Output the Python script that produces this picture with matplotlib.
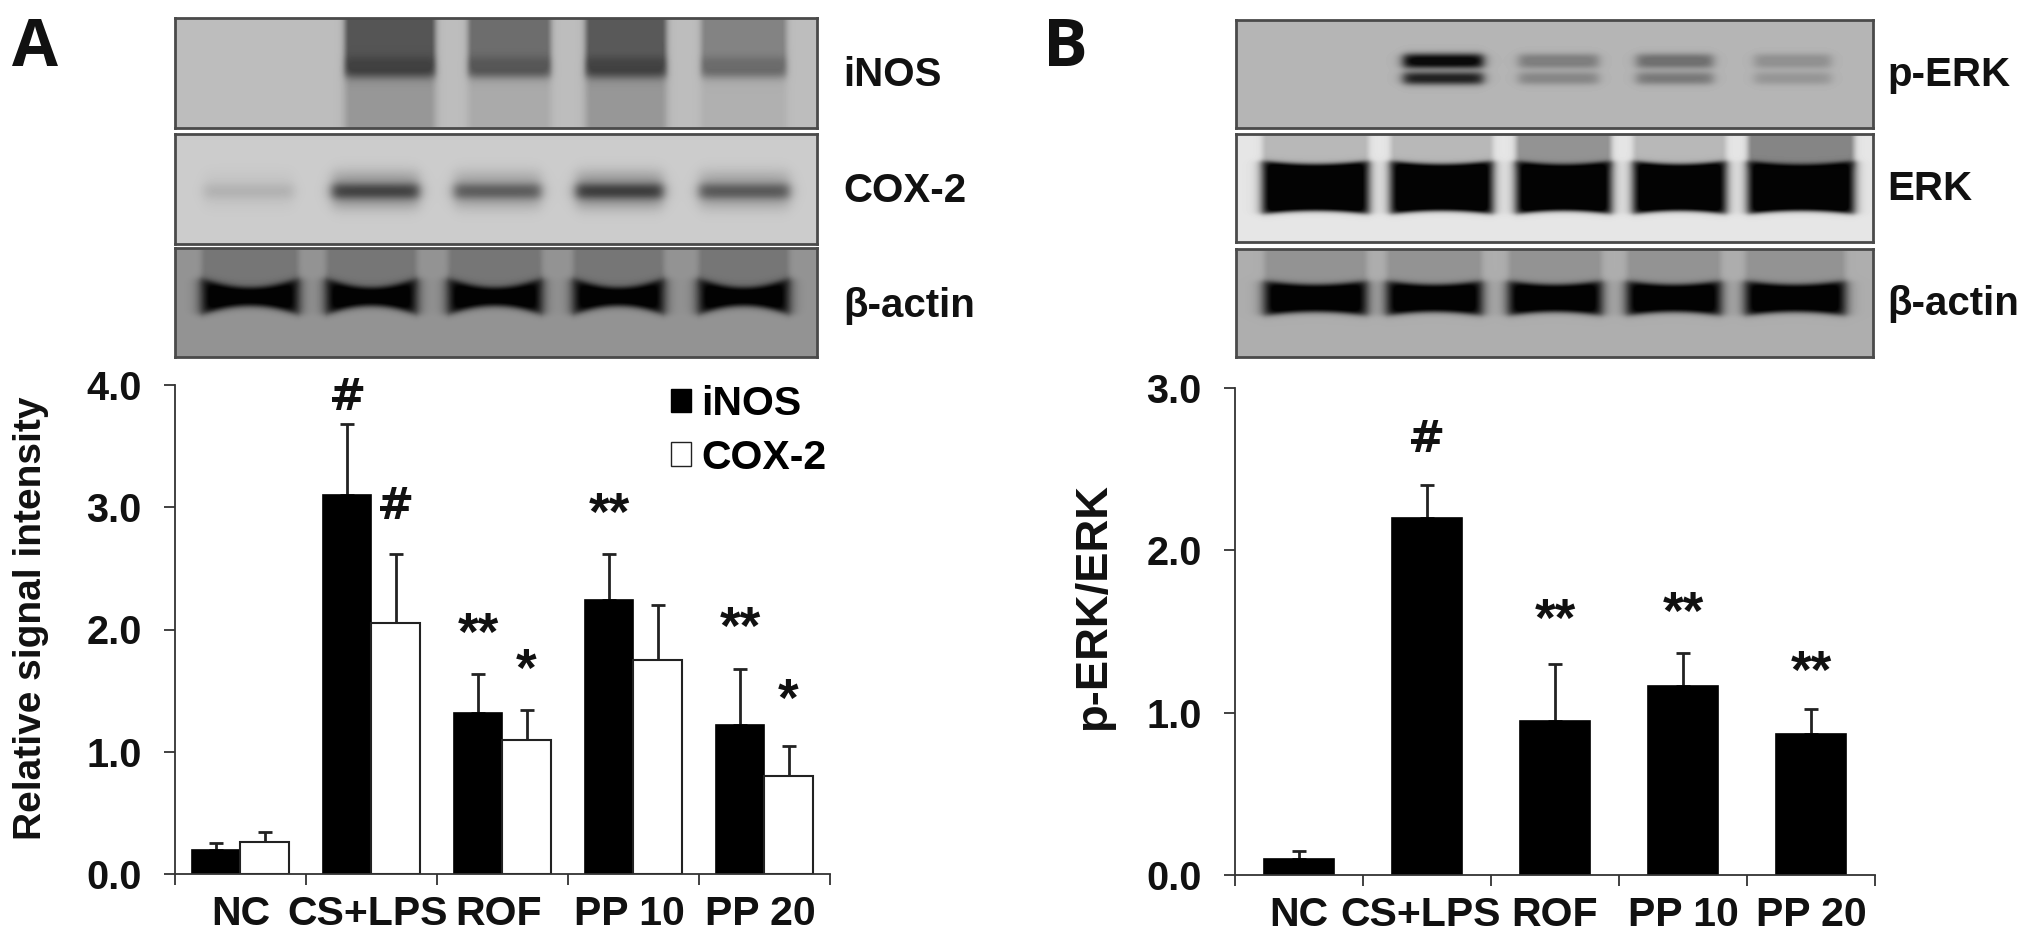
import numpy as np
import matplotlib
matplotlib.use("Agg")
import matplotlib.pyplot as plt
from matplotlib.patches import Patch

W, H = 2031, 943
plt.rcParams['font.family'] = ['Liberation Sans', 'DejaVu Sans']
plt.rcParams['font.weight'] = 'bold'

# ---- data ----
cats = ['NC', 'CS+LPS', 'ROF', 'PP 10', 'PP 20']
inos = [0.20, 3.10, 1.32, 2.24, 1.22]
inos_top = [0.25, 3.68, 1.64, 2.62, 1.68]
cox2 = [0.26, 2.05, 1.10, 1.75, 0.80]
cox2_top = [0.34, 2.62, 1.34, 2.20, 1.05]
perk = [0.10, 2.20, 0.95, 1.165, 0.87]
perk_top = [0.15, 2.40, 1.30, 1.37, 1.02]
yticks_a = [0, 1, 2, 3, 4]
yticks_b = [0, 1, 2, 3]

# blot lanes as fractions of panel width, and strengths
a_inos_lanes = [(0.265, 0.405), (0.457, 0.585), (0.640, 0.765), (0.820, 0.952)]
a_inos_str = [0.55, 0.42, 0.52, 0.30]
a_cox_lanes = [(0.045, 0.185), (0.245, 0.380), (0.435, 0.570), (0.625, 0.760), (0.817, 0.957)]
a_cox_str = [0.10, 0.62, 0.48, 0.65, 0.50]
a_act_lanes = [(0.042, 0.192), (0.236, 0.376), (0.426, 0.571), (0.621, 0.761), (0.816, 0.956)]
b_perk_lanes = [(0.263, 0.388), (0.444, 0.569), (0.629, 0.749), (0.814, 0.934)]
b_perk_str = [0.95, 0.30, 0.38, 0.20]
b_erk_lanes = [(0.042, 0.208), (0.243, 0.403), (0.440, 0.589), (0.624, 0.769), (0.804, 0.970)]
b_act_lanes = [(0.045, 0.205), (0.237, 0.386), (0.428, 0.574), (0.614, 0.761), (0.800, 0.956)]

fig = plt.figure(figsize=(W / 100, H / 100), dpi=100, facecolor='white')


def box(u, a, b, s):
    return 0.5 * (np.tanh((u - a) / s) - np.tanh((u - b) / s))


def axpx(x0, y0, x1, y1):
    return fig.add_axes([x0 / W, 1 - y1 / H, (x1 - x0) / W, (y1 - y0) / H])


def blot(rect, bg, layers):
    """layers: (lanes, strengths, y0, y1, x softness, y softness, bow)"""
    x0, y0, x1, y1 = rect
    nx, ny = int(x1 - x0), int(y1 - y0)
    xs = (np.arange(nx) + .5) / nx
    ys = (np.arange(ny) + .5) / ny
    img = np.full((ny, nx), bg, dtype=float)
    X, Y = np.meshgrid(xs, ys)
    for lanes, strs, a, b, sx, sy, bow in layers:
        for (l, r), st in zip(lanes, strs):
            t = np.clip((2 * (X - l) / (r - l) - 1) ** 2, 0, 1)
            m = box(Y, a - bow * t, b + bow * t, sy) * box(X, l, r, sx)
            img = img * (1 - st * np.clip(m * 1.15, 0, 1))
    ax = axpx(x0, y0, x1, y1)
    ax.imshow(img, cmap='gray', vmin=0, vmax=1, aspect='auto', interpolation='bilinear')
    ax.set_xticks([]); ax.set_yticks([])
    for s in ax.spines.values():
        s.set_linewidth(2.0); s.set_color('#4a4a4a')


n = 5
# Panel A blots
blot((175, 18, 817, 128), 0.74, [
    (a_inos_lanes, a_inos_str, -0.2, 0.52, 0.006, 0.05, 0),
    (a_inos_lanes, [0.20, 0.10, 0.20, 0.07], 0.50, 1.2, 0.008, 0.05, 0),
    (a_inos_lanes, [0.22, 0.20, 0.25, 0.18], 0.36, 0.54, 0.006, 0.05, 0)])
blot((175, 134, 817, 244), 0.80, [
    (a_cox_lanes, a_cox_str, 0.46, 0.58, 0.010, 0.05, 0),
    (a_cox_lanes, [s * .30 for s in a_cox_str], 0.34, 0.68, 0.012, 0.07, 0)])
blot((175, 248, 817, 357), 0.58, [
    (a_act_lanes, [0.985] * 5, 0.36, 0.53, 0.012, 0.035, 0.08),
    (a_act_lanes, [0.20] * 5, -0.1, 0.35, 0.006, 0.05, 0)])
# Panel B blots
blot((1236, 20, 1873, 128), 0.71, [
    (b_perk_lanes, b_perk_str, 0.32, 0.44, 0.010, 0.035, 0),
    (b_perk_lanes, [s * .85 for s in b_perk_str], 0.49, 0.59, 0.010, 0.035, 0)])
blot((1236, 134, 1873, 242), 0.90, [
    (b_erk_lanes, [0.985] * 5, 0.28, 0.71, 0.010, 0.025, 0.03),
    (b_erk_lanes, [0.20, 0.20, 0.36, 0.20, 0.42], -0.1, 0.30, 0.006, 0.04, 0)])
blot((1236, 249, 1873, 357), 0.68, [
    (b_act_lanes, [0.985] * 5, 0.33, 0.58, 0.012, 0.03, 0.035),
    (b_act_lanes, [0.15] * 5, -0.1, 0.33, 0.006, 0.05, 0)])

FS = 28.5
XFS = 29.5


def style(ax, yticks, ymax, label_pad, label_pos):
    ax.set_xlim(0, n)
    ax.set_ylim(0, ymax)
    ax.patch.set_alpha(0)
    for s in ('top', 'right'):
        ax.spines[s].set_visible(False)
    for s in ('left', 'bottom'):
        ax.spines[s].set_linewidth(1.3); ax.spines[s].set_color('#333333')
    ax.set_yticks(yticks)
    ax.set_yticklabels([f'{v:.1f}' for v in yticks], fontsize=FS, fontweight='bold', color='#111111')
    ax.set_xticks(np.arange(n + 1))
    ax.set_xticklabels([])
    ax.set_xticks(label_pos, minor=True)
    ax.set_xticklabels(cats, minor=True, fontsize=XFS, fontweight='bold', color='#111111')
    ax.tick_params(axis='y', length=8, width=1.3, color='#333333', pad=16)
    ax.tick_params(axis='x', which='major', length=8, width=1.3, color='#333333')
    ax.tick_params(axis='x', which='minor', length=0, pad=label_pad)


def errs(ax, xs, vals, tops):
    ax.errorbar(xs, vals, yerr=[np.zeros(n), np.array(tops) - np.array(vals)], fmt='none',
                ecolor='#222222', elinewidth=2.0, capsize=5, capthick=2.0, zorder=1)


# Panel A chart
axA = axpx(175, 385, 830, 874)
pos = np.arange(n) + .5
bw = 0.367
errs(axA, pos - bw / 2, inos, inos_top)
errs(axA, pos + bw / 2, cox2, cox2_top)
axA.bar(pos - bw / 2, inos, bw, color='black', edgecolor='black', linewidth=1.2, zorder=2)
axA.bar(pos + bw / 2, cox2, bw, color='white', edgecolor='#222222', linewidth=1.5, zorder=2)
style(axA, yticks_a, 4, 15, pos + np.array([0, -0.03, -0.03, -0.03, -0.03]))
mk = dict(ha='center', va='center', color='#111111', fontweight='bold')
hs = dict(fontsize=32, family='DejaVu Sans', **mk)
st = dict(fontsize=38, **mk)
axA.text(pos[1] - bw / 2, 3.90, '#', **hs)
axA.text(pos[1] + bw / 2, 3.01, '#', **hs)
axA.text(pos[2] - bw / 2, 1.95, '**', **st)
axA.text(pos[2] + bw / 2, 1.65, '*', **st)
axA.text(pos[3] - bw / 2, 2.93, '**', **st)
axA.text(pos[4] - bw / 2, 2.00, '**', **st)
axA.text(pos[4] + bw / 2, 1.41, '*', **st)
axA.legend(handles=[Patch(fc='black', ec='black', label='iNOS'),
                    Patch(fc='white', ec='#222222', label='COX-2')],
           loc='upper right', bbox_to_anchor=(0.995, 1.0), frameon=False, fontsize=29.5,
           handlelength=0.5, handleheight=0.5, handletextpad=0.25, labelspacing=0.38,
           borderpad=0, borderaxespad=0)

# Panel B chart
axB = axpx(1235, 388, 1875, 875)
bwB = 0.55
errs(axB, pos, perk, perk_top)
axB.bar(pos, perk, bwB, color='black', edgecolor='black', linewidth=1.2, zorder=2)
style(axB, yticks_b, 3, 15, pos + np.array([0, -0.05, 0, 0, 0]))
axB.text(pos[1], 2.68, '#', **hs)
axB.text(pos[2], 1.56, '**', **st)
axB.text(pos[3], 1.60, '**', **st)
axB.text(pos[4], 1.24, '**', **st)


def ftext(x, y, s, **kw):
    fig.text(x / W, 1 - y / H, s, va='center', color='#111111', fontweight='bold', **kw)


ftext(12, 48, 'A', fontsize=48, family='Open Sans')
ftext(1043, 48, 'B', fontsize=48, family='Open Sans')
for x, y, s in [(843, 75, 'iNOS'), (843, 191, 'COX-2'), (843, 306, 'β-actin'),
                (1887, 75, 'p-ERK'), (1887, 189, 'ERK'), (1887, 304, 'β-actin')]:
    ftext(x, y, s, fontsize=29)
ftext(31, 618, 'Relative signal intensity', fontsize=28, rotation=90, ha='center')
ftext(1094, 607, 'p-ERK/ERK', fontsize=32.7, rotation=90, ha='center')

fig.savefig('out.png', dpi=100)
